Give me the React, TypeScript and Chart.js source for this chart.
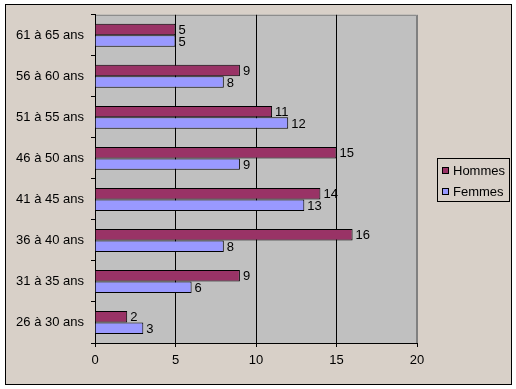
import React, { useEffect, useRef } from "react";
import { Chart, registerables } from "chart.js";

Chart.register(...registerables);

const categories = [
  "61 à 65 ans",
  "56 à 60 ans",
  "51 à 55 ans",
  "46 à 50 ans",
  "41 à 45 ans",
  "36 à 40 ans",
  "31 à 35 ans",
  "26 à 30 ans",
];
const hommes = [5, 9, 11, 15, 14, 16, 9, 2];
const femmes = [5, 8, 12, 9, 13, 8, 6, 3];
const seriesNames = ["Hommes", "Femmes"];
const xTicks = [0, 5, 10, 15, 20];

const FONT = "'Liberation Sans', Arial, sans-serif";
const BG = "#D8D0C8";

const backgroundPlugin = {
  id: "bgPlugin",
  beforeDraw(chart: any) {
    const { ctx, chartArea } = chart;
    ctx.save();
    ctx.fillStyle = "#ffffff";
    ctx.fillRect(0, 0, chart.width, chart.height);
    ctx.fillStyle = BG;
    ctx.fillRect(5, 4, 507, 381);
    ctx.strokeStyle = "#000000";
    ctx.lineWidth = 1;
    ctx.strokeRect(5.5, 4.5, 506, 380);
    ctx.fillStyle = "#C0C0C0";
    ctx.fillRect(chartArea.left, chartArea.top, chartArea.right - chartArea.left, chartArea.bottom - chartArea.top);
    ctx.strokeStyle = "#808080";
    ctx.beginPath();
    ctx.moveTo(chartArea.left, chartArea.top + 0.5);
    ctx.lineTo(chartArea.right - 0.5, chartArea.top + 0.5);
    ctx.lineTo(chartArea.right - 0.5, chartArea.bottom);
    ctx.stroke();
    ctx.restore();
  },
};

const labelPlugin = {
  id: "valueLabels",
  afterDatasetsDraw(chart: any) {
    const { ctx } = chart;
    ctx.save();
    ctx.font = `13px ${FONT}`;
    ctx.fillStyle = "#000000";
    ctx.textAlign = "left";
    ctx.textBaseline = "middle";
    chart.data.datasets.forEach((ds: any, di: number) => {
      const meta = chart.getDatasetMeta(di);
      meta.data.forEach((el: any, i: number) => {
        ctx.fillText(String(ds.data[i]), el.x + 3, el.y + 1);
      });
    });
    ctx.restore();
  },
};

const legendPlugin = {
  id: "boxLegend",
  afterDraw(chart: any) {
    const { ctx } = chart;
    const x = 437, y = 158, w = 72, h = 43;
    ctx.save();
    ctx.strokeStyle = "#000000";
    ctx.lineWidth = 1;
    ctx.strokeRect(x + 0.5, y + 0.5, w, h);
    ctx.font = `13px ${FONT}`;
    ctx.textAlign = "left";
    ctx.textBaseline = "middle";
    chart.data.datasets.forEach((ds: any, i: number) => {
      const cy = y + 12 + i * 21;
      ctx.fillStyle = ds.backgroundColor;
      ctx.fillRect(442, cy - 3, 7, 7);
      ctx.strokeStyle = "#000000";
      ctx.strokeRect(442.5, cy - 2.5, 6, 6);
      ctx.fillStyle = "#000000";
      ctx.fillText(ds.label, 453, cy + 1);
    });
    ctx.restore();
  },
};

export default function App() {
  const ref = useRef<HTMLCanvasElement>(null);
  useEffect(() => {
    document.body.style.margin = "0";
    const chart = new Chart(ref.current!, {
      type: "bar",
      data: {
        labels: categories,
        datasets: [
          {
            label: seriesNames[0],
            data: hommes,
            backgroundColor: "#993366",
            borderColor: "#000000",
            borderWidth: 1,
            categoryPercentage: 0.56,
            barPercentage: 1,
          },
          {
            label: seriesNames[1],
            data: femmes,
            backgroundColor: "#9999FF",
            borderColor: "#000000",
            borderWidth: 1,
            categoryPercentage: 0.56,
            barPercentage: 1,
          },
        ],
      },
      options: {
        indexAxis: "y",
        responsive: false,
        animation: false,
        layout: { padding: { top: 14, right: 99, left: 0, bottom: 0 } },
        plugins: { legend: { display: false }, tooltip: { enabled: false } },
        scales: {
          x: {
            min: 0,
            max: 20,
            afterBuildTicks: (s: any) => {
              s.ticks = xTicks.map((v) => ({ value: v }));
            },
            afterFit: (s: any) => {
              s.height = 46;
            },
            grid: {
              color: (c: any) => (c.tick && c.tick.value === 20 ? "#808080" : "#000000"),
              tickColor: "#000000",
              tickLength: 4,
              lineWidth: 1,
            },
            border: { color: "#000000" },
            ticks: { color: "#000000", font: { family: FONT, size: 13 }, padding: 6 },
          },
          y: {
            afterFit: (s: any) => {
              s.width = 95;
            },
            grid: {
              drawOnChartArea: false,
              drawTicks: true,
              tickLength: 4,
              color: "#000000",
              offset: true,
            },
            border: { color: "#000000" },
            ticks: { color: "#000000", font: { family: FONT, size: 13 }, padding: 7 },
          },
        },
      },
      plugins: [backgroundPlugin, labelPlugin, legendPlugin],
    } as any);
    return () => chart.destroy();
  }, []);
  return (
    <div style={{ width: 516, height: 389 }}>
      <canvas ref={ref} width={516} height={389} style={{ display: "block" }} />
    </div>
  );
}
